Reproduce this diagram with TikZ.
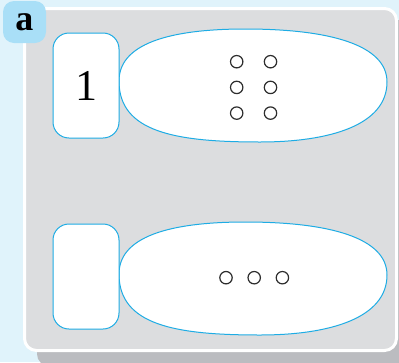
\documentclass[tikz,border=0pt]{standalone}
\usepackage{fontspec}
\setmainfont{Liberation Serif}
\usetikzlibrary{positioning}
\definecolor{figbg}{RGB}{224,243,251}
\definecolor{panelgray}{RGB}{220,221,223}
\definecolor{panelshadow}{RGB}{187,188,192}
\definecolor{tagblue}{RGB}{169,223,247}
\definecolor{lineblue}{RGB}{30,172,228}
\definecolor{dotgray}{RGB}{45,45,45}

\begin{document}
\begin{tikzpicture}[x=1pt, y=-1pt,
    card/.style={draw=lineblue, line width=1pt, fill=white, rounded corners=16pt, minimum width=66pt, minimum height=105pt, inner sep=0pt},
    blob/.style={draw=lineblue, line width=1pt, fill=white},
    dot/.style={circle, draw=dotgray, line width=1.2pt, minimum size=12.4pt, inner sep=0pt}]
    \useasboundingbox (0,0) rectangle (399,362);
    \clip (0,0) rectangle (399,362);
    % background, shadow and panel
    \fill[figbg] (0,0) rectangle (399,362);
    \fill[panelshadow, rounded corners=12pt] (37,20) rectangle (412,366);
    \draw[fill=panelgray, draw=white, line width=3pt, rounded corners=12pt] (24.5,8.5) rectangle (396.5,350.5);
    \node[fill=tagblue, rounded corners=11pt, minimum width=43pt, minimum height=42pt, inner sep=0pt] (tag) at (24.5,22) {\fontsize{36}{36}\selectfont\bfseries a};

    % two rows: blob plus card
    \foreach \dy in {0,193} {
        \draw[blob, shift={(0,\dy)}] (119,81) .. controls (119,40) and (180,29) .. (245,29) .. controls (330,29) and (387,45) .. (387,82) .. controls (387,125) and (330,142) .. (260,142) .. controls (175,142) and (119,132) .. (119,81) -- cycle;
    }
    \node[card] (card1) at (86,85.5) {\fontsize{44}{44}\selectfont 1};
    \node[card] (card2) at (86,276.5) {};

    % six dots, top row
    \node[dot] (d11) at (236.7,61.7) {};
    \node[dot, right=20.2pt of d11] (d12) {};
    \node[dot, below=12.1pt of d11] (d21) {};
    \node[dot, right=20.2pt of d21] (d22) {};
    \node[dot, below=12.1pt of d21] (d31) {};
    \node[dot, right=20.2pt of d31] (d32) {};

    % three dots, bottom row
    \node[dot] (e1) at (226,277.7) {};
    \node[dot, right=14.6pt of e1] (e2) {};
    \node[dot, right=14.6pt of e2] (e3) {};
\end{tikzpicture}
\end{document}
